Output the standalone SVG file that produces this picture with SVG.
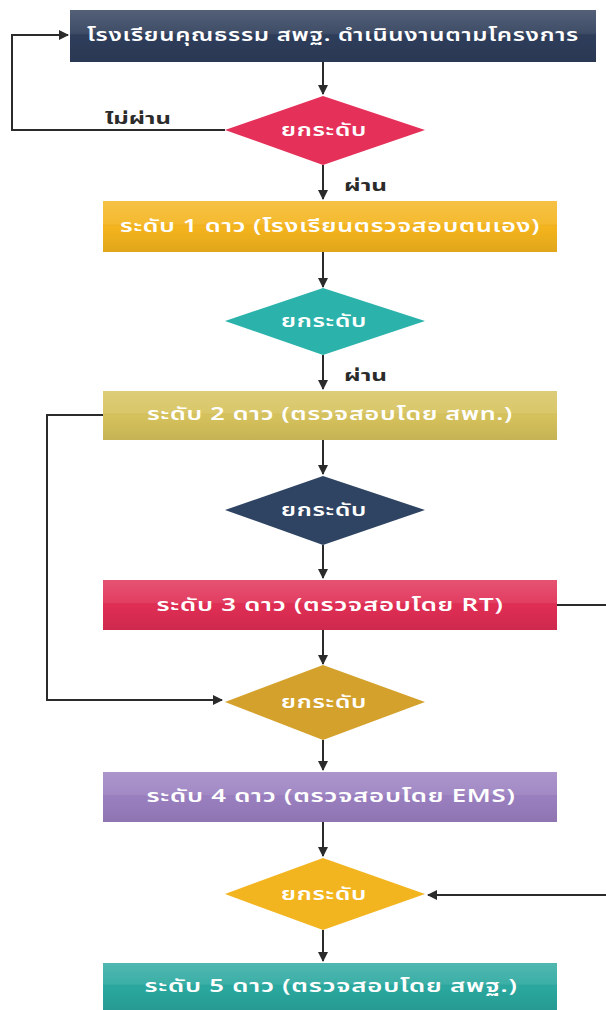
<svg xmlns="http://www.w3.org/2000/svg" width="606" height="1010" viewBox="0 0 606 1010">
<defs>
<marker id="ah" viewBox="0 0 10 10" refX="9" refY="5" markerWidth="5" markerHeight="5" orient="auto" markerUnits="strokeWidth">
<path d="M0,0 L10,5 L0,10 z" fill="#2b2b2b"/>
</marker>
<linearGradient id="sheen" x1="0" y1="0" x2="0" y2="1">
<stop offset="0" stop-color="#fff" stop-opacity="0.18"/>
<stop offset="0.45" stop-color="#fff" stop-opacity="0.08"/>
<stop offset="0.5" stop-color="#000" stop-opacity="0"/>
<stop offset="1" stop-color="#000" stop-opacity="0.08"/>
</linearGradient>
<style>
.t{font-family:"Noto Sans Thai","Noto Sans","DejaVu Sans","Liberation Sans",sans-serif;font-size:17px;font-weight:600;fill:#fff;text-anchor:middle;dominant-baseline:central;letter-spacing:0.5px}
.l{font-family:"Noto Sans Thai","Noto Sans","DejaVu Sans","Liberation Sans",sans-serif;font-size:15px;font-weight:bold;fill:#2b2b2b}
.c{fill:none;stroke:#2b2b2b;stroke-width:2}
</style>
</defs>
<rect width="606" height="1010" fill="#fff"/>
<g id="connectors">
<path class="c" d="M323,62 V94" marker-end="url(#ah)"/>
<path class="c" d="M225,130 H12 V35 H68" marker-end="url(#ah)"/>
<path class="c" d="M323,165 V199" marker-end="url(#ah)"/>
<path class="c" d="M323,252 V287" marker-end="url(#ah)"/>
<path class="c" d="M323,355 V389" marker-end="url(#ah)"/>
<path class="c" d="M103,415 H47 V700 H222" marker-end="url(#ah)"/>
<path class="c" d="M323,440 V474" marker-end="url(#ah)"/>
<path class="c" d="M323,545 V578" marker-end="url(#ah)"/>
<path class="c" d="M557,605 H608 V895 H428" marker-end="url(#ah)"/>
<path class="c" d="M323,630 V664" marker-end="url(#ah)"/>
<path class="c" d="M323,740 V770" marker-end="url(#ah)"/>
<path class="c" d="M323,822 V856" marker-end="url(#ah)"/>
<path class="c" d="M323,930 V961" marker-end="url(#ah)"/>
<text class="l" x="105" y="124" textLength="66" lengthAdjust="spacingAndGlyphs">ไม่ผ่าน</text>
<text class="l" x="344" y="191" textLength="43" lengthAdjust="spacingAndGlyphs">ผ่าน</text>
<text class="l" x="344" y="381" textLength="43" lengthAdjust="spacingAndGlyphs">ผ่าน</text>
</g>
<g id="start">
<rect x="70" y="10" width="526" height="52" fill="#2e3d5a"/>
<rect x="70" y="10" width="526" height="52" fill="url(#sheen)"/>
<text class="t" x="333" y="36" textLength="492" lengthAdjust="spacingAndGlyphs">โรงเรียนคุณธรรม สพฐ. ดำเนินงานตามโครงการ</text>
</g>
<g id="d1">
<polygon points="323,96 425,130 323,165 225,130" fill="#e5305a"/>
<text class="t" x="324" y="131" textLength="86" lengthAdjust="spacingAndGlyphs">ยกระดับ</text>
</g>
<g id="s1">
<rect x="103" y="201" width="454" height="51" fill="#f4b41d"/>
<rect x="103" y="201" width="454" height="51" fill="url(#sheen)"/>
<text class="t" x="330" y="227" textLength="420" lengthAdjust="spacingAndGlyphs">ระดับ 1 ดาว (โรงเรียนตรวจสอบตนเอง)</text>
</g>
<g id="d2">
<polygon points="323,288 425,321 323,355 225,321" fill="#2bb3ab"/>
<text class="t" x="324" y="322" textLength="86" lengthAdjust="spacingAndGlyphs">ยกระดับ</text>
</g>
<g id="s2">
<rect x="103" y="391" width="454" height="49" fill="#d6c25c"/>
<rect x="103" y="391" width="454" height="49" fill="url(#sheen)"/>
<text class="t" x="330" y="415" textLength="366" lengthAdjust="spacingAndGlyphs">ระดับ 2 ดาว (ตรวจสอบโดย สพท.)</text>
</g>
<g id="d3">
<polygon points="323,476 425,510 323,545 225,510" fill="#2f4463"/>
<text class="t" x="324" y="511" textLength="86" lengthAdjust="spacingAndGlyphs">ยกระดับ</text>
</g>
<g id="s3">
<rect x="103" y="580" width="454" height="50" fill="#e02d54"/>
<rect x="103" y="580" width="454" height="50" fill="url(#sheen)"/>
<text class="t" x="330" y="606" textLength="347" lengthAdjust="spacingAndGlyphs">ระดับ 3 ดาว  (ตรวจสอบโดย RT)</text>
</g>
<g id="d4">
<polygon points="323,665 425,702 323,740 225,702" fill="#d4a12c"/>
<text class="t" x="324" y="703" textLength="86" lengthAdjust="spacingAndGlyphs">ยกระดับ</text>
</g>
<g id="s4">
<rect x="103" y="772" width="454" height="50" fill="#9a7fc0"/>
<rect x="103" y="772" width="454" height="50" fill="url(#sheen)"/>
<text class="t" x="331" y="797" textLength="369" lengthAdjust="spacingAndGlyphs">ระดับ 4 ดาว  (ตรวจสอบโดย EMS)</text>
</g>
<g id="d5">
<polygon points="323,858 425,894 323,930 225,894" fill="#f2b51f"/>
<text class="t" x="324" y="895" textLength="86" lengthAdjust="spacingAndGlyphs">ยกระดับ</text>
</g>
<g id="s5">
<rect x="103" y="963" width="454" height="47" fill="#2aa89f"/>
<rect x="103" y="963" width="454" height="47" fill="url(#sheen)"/>
<text class="t" x="331" y="987" textLength="373" lengthAdjust="spacingAndGlyphs">ระดับ 5 ดาว  (ตรวจสอบโดย สพฐ.)</text>
</g>
</svg>
